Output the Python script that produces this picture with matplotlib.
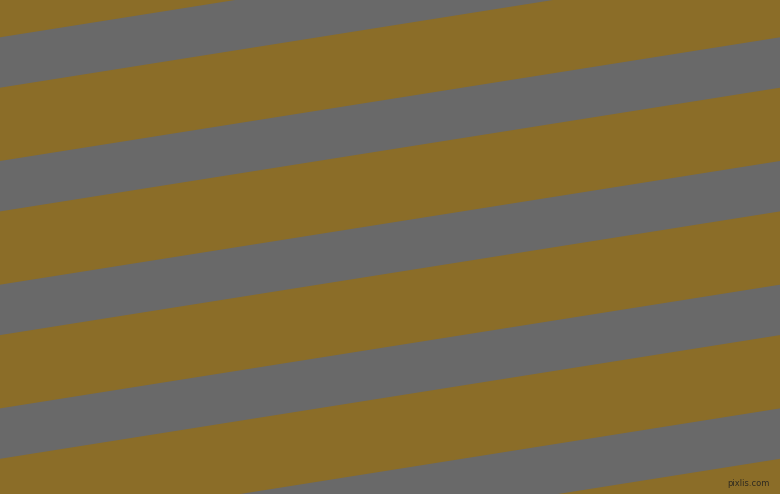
import numpy as np
import matplotlib
matplotlib.use("Agg")
import matplotlib.pyplot as plt

# picture size in pixels
width_px = 780
height_px = 494

# gray stripes: top edge at the left border (px from top) and vertical thickness
stripe_tops_left = [-86.4, 37.3, 161.0, 284.7, 408.4, 532.1]
stripe_thickness = 50.4
# how much each stripe rises from left to right edge
stripe_rise = 123.7

bg_color = "#8b6d28"
stripe_color = "#696969"

fig = plt.figure(figsize=(width_px / 100, height_px / 100), dpi=100)
ax = fig.add_axes([0, 0, 1, 1])
ax.set_facecolor(bg_color)
fig.patch.set_facecolor(bg_color)

x = np.array([0, width_px])
slope = stripe_rise / width_px
for top in stripe_tops_left:
    upper = top - slope * x
    lower = upper + stripe_thickness
    ax.fill_between(x, upper, lower, color=stripe_color, linewidth=0)

ax.set_xlim(0, width_px)
ax.set_ylim(height_px, 0)
ax.axis("off")

# watermark
ax.text(770, 483, "pixlis.com", fontsize=6, color="#2e2a20", ha="right", va="center",
        family="DejaVu Sans")

fig.savefig("out.png", dpi=100, facecolor=bg_color)
